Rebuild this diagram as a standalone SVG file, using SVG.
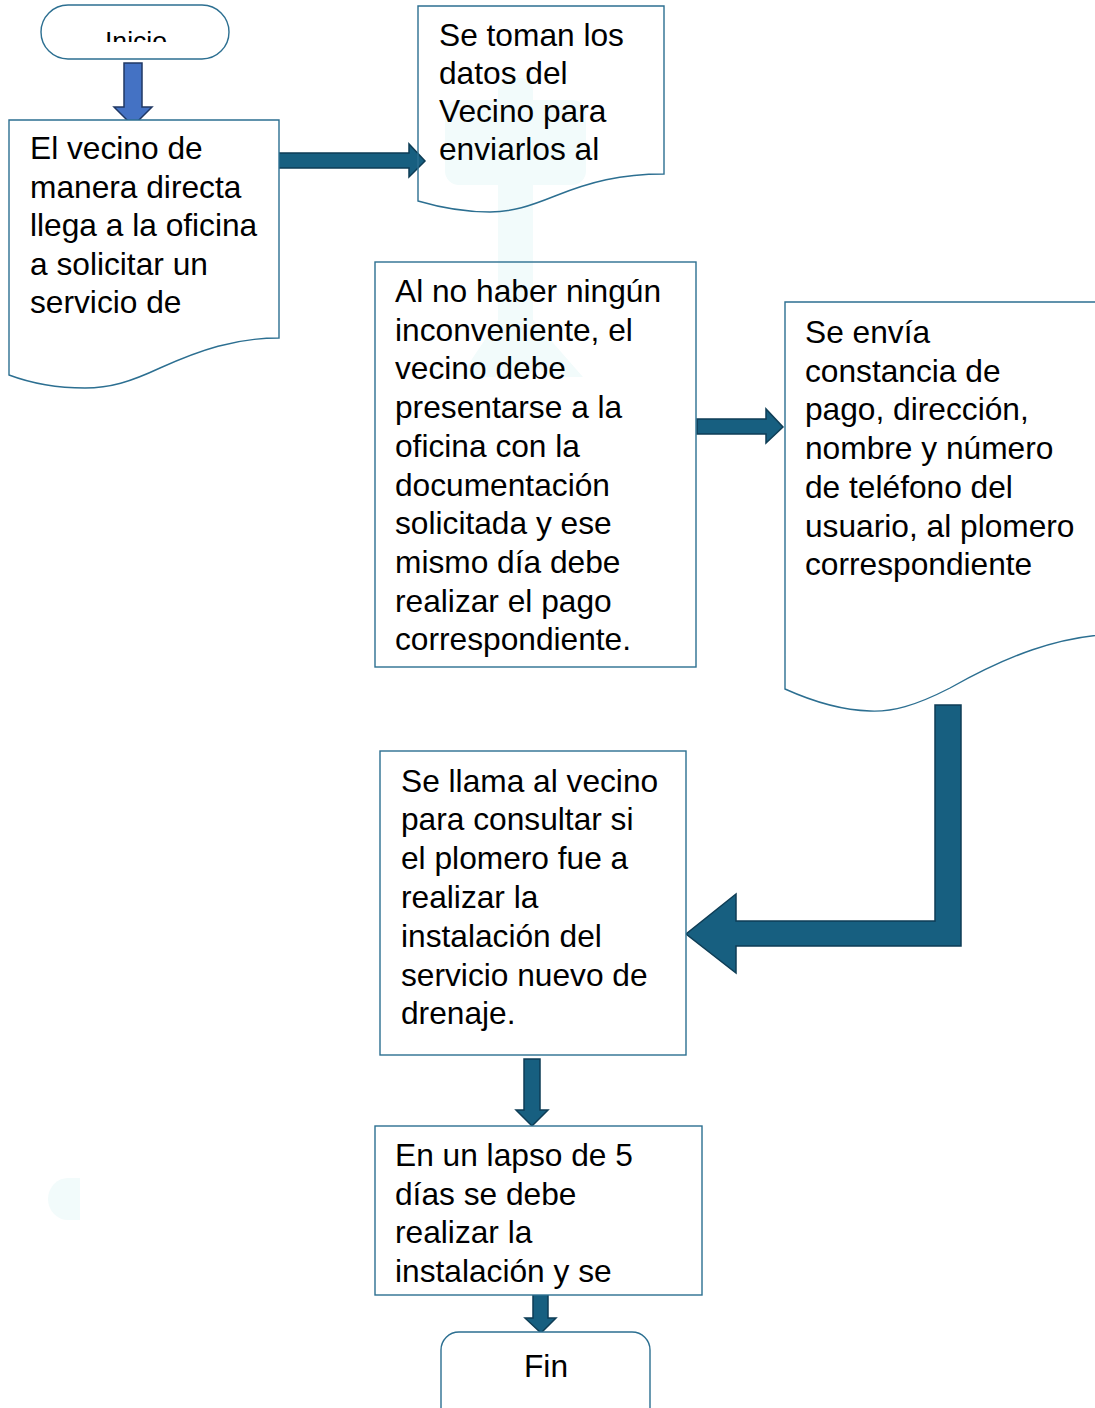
<svg xmlns="http://www.w3.org/2000/svg" width="1095" height="1408" viewBox="0 0 1095 1408">
<defs>
<style>
.box{fill:#ffffff;stroke:#2c6f91;stroke-width:1.4}
.t{font-family:"Liberation Sans",Arial,sans-serif;font-size:31.7px;fill:#000000}
.arr{fill:#175f80;stroke:#0e3d55;stroke-width:1.5;stroke-linejoin:miter}
.arrb{fill:#4472c4;stroke:#203864;stroke-width:1.5}
.wm{fill:#f2fbfb}
</style>
<clipPath id="clipInicio"><rect x="41" y="5" width="188" height="37"/></clipPath>
</defs>
<rect width="1095" height="1408" fill="#ffffff"/>

<g id="watermark">
<rect class="wm" x="498" y="78" width="35" height="300" rx="12"/>
<rect class="wm" x="445" y="100" width="141" height="85" rx="14"/>
<polygon class="wm" points="498,320 533,320 583,377 548,377 515,345 495,377 460,377"/>
<path class="wm" d="M80,1178 H68 A20,21 0 0 0 68,1220 H80 Z"/>
</g>

<g id="connectors">
<polygon class="arrb" points="124,63 142,63 142,107 152,107 133,126 114,107 124,107"/>
<polygon class="arr" points="274,153 409,153 409,144 425,161 409,177 409,168 274,168"/>
<polygon class="arr" points="697,419 766,419 766,409 783,427 766,443 766,434 697,434"/>
<polygon class="arr" points="935,705 961,705 961,946 736,946 736,973 686,934 736,894 736,921 935,921"/>
<polygon class="arr" points="524,1059 540,1059 540,1110 548,1110 532,1126 516,1110 524,1110"/>
<polygon class="arr" points="533,1292 548,1292 548,1318 556,1318 541,1333 525,1318 533,1318"/>
</g>

<g id="inicio">
<rect class="box" x="41" y="5" width="188" height="54" rx="27"/>
<text class="t" x="136" y="50" text-anchor="middle" style="font-size:26.6px" clip-path="url(#clipInicio)">Inicio</text>
</g>

<g id="n1">
<path class="box" d="M9,120 H279 V338 C235,338 200,350 160,368 C130,382 110,388 85,388 C50,388 25,381 9,375 Z"/>
<text class="t">
<tspan x="30" y="159">El vecino de</tspan>
<tspan x="30" y="197.5">manera directa</tspan>
<tspan x="30" y="236">llega a la oficina</tspan>
<tspan x="30" y="274.5">a solicitar un</tspan>
<tspan x="30" y="313">servicio de</tspan>
</text>
</g>

<g id="n2">
<path class="box" d="M418,6 H664 V174 C620,174 590,182 555,196 C530,206 512,212 490,212 C460,212 435,206 418,201 Z" style="fill:none"/>
<text class="t">
<tspan x="439" y="46">Se toman los</tspan>
<tspan x="439" y="84">datos del</tspan>
<tspan x="439" y="122">Vecino para</tspan>
<tspan x="439" y="160">enviarlos al</tspan>
</text>
</g>

<g id="n3">
<rect class="box" x="375" y="262" width="321" height="405" style="fill:none"/>
<text class="t">
<tspan x="395" y="302">Al no haber ningún</tspan>
<tspan x="395" y="340.7">inconveniente, el</tspan>
<tspan x="395" y="379.4">vecino debe</tspan>
<tspan x="395" y="418.1">presentarse a la</tspan>
<tspan x="395" y="456.8">oficina con la</tspan>
<tspan x="395" y="495.5">documentación</tspan>
<tspan x="395" y="534.2">solicitada y ese</tspan>
<tspan x="395" y="572.9">mismo día debe</tspan>
<tspan x="395" y="611.6">realizar el pago</tspan>
<tspan x="395" y="650.3">correspondiente.</tspan>
</text>
</g>

<g id="n4">
<path class="box" d="M785,302 H1130 V634 C1060,632 1000,660 950,688 C915,706 892,712 870,711 C835,710 805,698 785,689 Z"/>
<text class="t">
<tspan x="805" y="343">Se envía</tspan>
<tspan x="805" y="381.7">constancia de</tspan>
<tspan x="805" y="420.4">pago, dirección,</tspan>
<tspan x="805" y="459.1">nombre y número</tspan>
<tspan x="805" y="497.8">de teléfono del</tspan>
<tspan x="805" y="536.5">usuario, al plomero</tspan>
<tspan x="805" y="575.2">correspondiente</tspan>
</text>
</g>

<g id="n5">
<rect class="box" x="380" y="751" width="306" height="304"/>
<text class="t">
<tspan x="401" y="791.5">Se llama al vecino</tspan>
<tspan x="401" y="830.3">para consultar si</tspan>
<tspan x="401" y="869.1">el plomero fue a</tspan>
<tspan x="401" y="907.9">realizar la</tspan>
<tspan x="401" y="946.7">instalación del</tspan>
<tspan x="401" y="985.5">servicio nuevo de</tspan>
<tspan x="401" y="1024.3">drenaje.</tspan>
</text>
</g>

<g id="n6">
<rect class="box" x="375" y="1126" width="327" height="169"/>
<text class="t">
<tspan x="395" y="1166">En un lapso de 5</tspan>
<tspan x="395" y="1204.7">días se debe</tspan>
<tspan x="395" y="1243.4">realizar la</tspan>
<tspan x="395" y="1282.1">instalación y se</tspan>
</text>
</g>

<g id="fin">
<rect class="box" x="441" y="1332" width="209" height="110" rx="18"/>
<text class="t" x="546" y="1377" text-anchor="middle">Fin</text>
</g>
</svg>
